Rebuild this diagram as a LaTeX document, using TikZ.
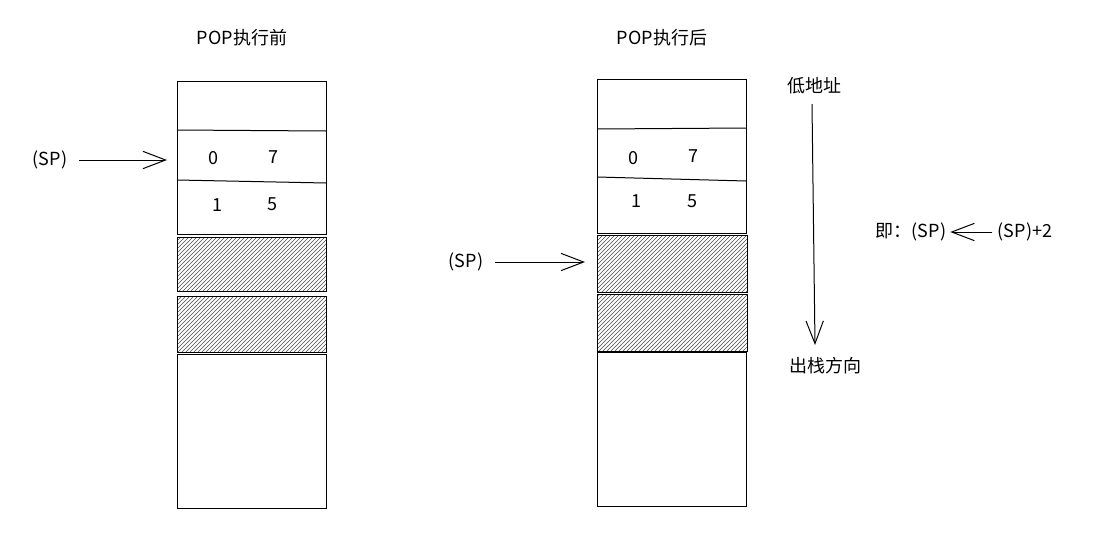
\documentclass[tikz,border=0pt]{standalone}
\usepackage{fontspec}
\setmainfont{Noto Sans CJK SC}
\usetikzlibrary{arrows.meta,patterns}
\tikzset{every picture/.style={line width=0.75pt}}

\begin{document}
\begin{tikzpicture}[x=0.75pt,y=0.75pt,yscale=-1,xscale=1,
  lbl/.style={inner sep=0.75pt,font=\fontsize{13.5}{16}\selectfont},
  hatch/.style={pattern=north east lines,pattern color=black!70},
  ptr/.style={-{Straight Barb[length=17pt,width=13pt]}}]
\path[use as bounding box,fill=white] (0,0) rectangle (1107,554);

%Shape: Stack before [left]
\draw (177,81) rectangle (326,234);
\draw (177,130) -- (326,131);
\draw (177,180) -- (326,183);
\draw [hatch] (177,237) rectangle (326,291);
\draw [hatch] (177,296) rectangle (326,352);
\draw (177,354) rectangle (326,508);

%Shape: Stack after [right]
\draw (597,79) rectangle (746,233);
\draw (597,129) -- (746,128);
\draw (597,177) -- (746,181);
\draw [hatch] (597,235) rectangle (747,292);
\draw [hatch] (597,294) rectangle (747,351);
\draw (597,352) rectangle (746,506);

% Text Node
\node [lbl] (titleL) at (242,38) {POP执行前};
% Text Node
\node [lbl] (titleR) at (662,38) {POP执行后};

% Text Node
\node [lbl] (d0L) at (213,158) {0};
\node [lbl] (d7L) at (273,157) {7};
\node [lbl] (d1L) at (217,205) {1};
\node [lbl] (d5L) at (272,204) {5};
% Text Node
\node [lbl] (d0R) at (633,158) {0};
\node [lbl] (d7R) at (693,156) {7};
\node [lbl] (d1R) at (636,201) {1};
\node [lbl] (d5R) at (692,201) {5};

% Text Node
\node [lbl] (spL) at (50,160) {(SP)};
\coordinate (tipL) at (167,160);
\draw [ptr,shorten <=8pt] (spL.east) -- (tipL);
% Text Node
\node [lbl] (spR) at (466,262) {(SP)};
\coordinate (tipR) at (585,262);
\draw [ptr,shorten <=8pt] (spR.east) -- (tipR);

% Text Node
\node [lbl] (low) at (814,86) {低地址};
% Text Node
\node [lbl] (outdir) at (825,366) {出栈方向};
\coordinate (dirTop) at (812,104);
\coordinate (dirEnd) at (815,345);
\draw [ptr] (dirTop) -- (dirEnd);

% Text Node
\node [lbl] (eqL) at (911,232) {即：(SP)};
% Text Node
\node [lbl] (eqR) at (1025,232) {(SP)+2};
\draw [ptr,shorten <=3pt,shorten >=2pt] (eqR.west) -- (eqL.east);

\end{tikzpicture}
\end{document}
